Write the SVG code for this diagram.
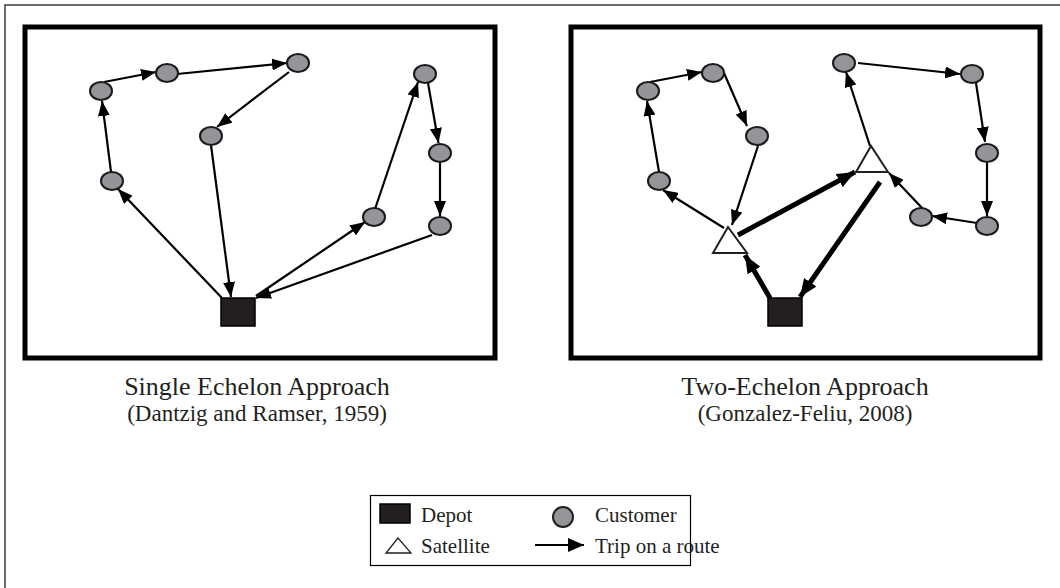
<svg xmlns="http://www.w3.org/2000/svg" width="1060" height="588" viewBox="0 0 1060 588">
<defs>
<marker id="ah" markerUnits="userSpaceOnUse" markerWidth="15" markerHeight="12" refX="15" refY="6" orient="auto"><path d="M0,0 L15,6 L0,12 z" fill="#000"/></marker>
<marker id="ahb" markerUnits="userSpaceOnUse" markerWidth="18" markerHeight="15" refX="18" refY="7.5" orient="auto"><path d="M0,0 L18,7.5 L0,15 z" fill="#000"/></marker>
<style>
.frame{fill:none;stroke:#000;stroke-width:5}
.cust{fill:#939598;stroke:#1a1a1a;stroke-width:2}
.depot{fill:#231f20;stroke:#000;stroke-width:1.5}
.sat{fill:#fff;stroke:#231f20;stroke-width:2}
.e{stroke:#000;stroke-width:2.2;fill:none;marker-end:url(#ah)}
.t{stroke:#000;stroke-width:5;fill:none;marker-end:url(#ahb)}
.cap{font-family:"Liberation Serif","Times New Roman",serif;font-size:26px;fill:#231f20;text-anchor:middle}
.cap2{font-family:"Liberation Serif","Times New Roman",serif;font-size:23px;fill:#231f20;text-anchor:middle}
.lg{font-family:"Liberation Serif","Times New Roman",serif;font-size:21px;fill:#231f20}
</style>
</defs>
<rect width="1060" height="588" fill="#fff"/>
<path d="M5,588 V5 H1060" fill="none" stroke="#3a3a3a" stroke-width="1.5"/>

<g id="panel-left">
<rect class="frame" x="25" y="27" width="470" height="331"/>
</g>
<g id="panel-right">
<rect class="frame" x="571" y="27" width="469" height="331"/>
</g>

<g id="connectors">
<line class="e" x1="222" y1="298" x2="118" y2="189"/>
<line class="e" x1="111" y1="172" x2="102" y2="101"/>
<line class="e" x1="104" y1="82" x2="156" y2="72"/>
<line class="e" x1="177" y1="74" x2="287" y2="63"/>
<line class="e" x1="289" y1="72" x2="217" y2="127"/>
<line class="e" x1="211" y1="145" x2="231" y2="297"/>
<line class="e" x1="256" y1="296" x2="365" y2="222"/>
<line class="e" x1="375" y1="209" x2="418" y2="82"/>
<line class="e" x1="428" y1="83" x2="438.5" y2="143"/>
<line class="e" x1="440" y1="163" x2="440" y2="216"/>
<line class="e" x1="432" y1="235" x2="256" y2="298"/>

<line class="e" x1="724" y1="228" x2="663" y2="190"/>
<line class="e" x1="659" y1="172" x2="647" y2="101"/>
<line class="e" x1="650" y1="82" x2="702" y2="72"/>
<line class="e" x1="724" y1="73" x2="747" y2="126"/>
<line class="e" x1="758" y1="146" x2="732" y2="225"/>
<line class="t" x1="738" y1="235" x2="855" y2="172"/>
<line class="t" x1="880" y1="182" x2="800" y2="297"/>
<line class="t" x1="770" y1="298" x2="745" y2="255"/>
<line class="e" x1="870" y1="146" x2="846" y2="72"/>
<line class="e" x1="858" y1="63" x2="960" y2="74"/>
<line class="e" x1="976" y1="83" x2="985" y2="142"/>
<line class="e" x1="987" y1="163" x2="987" y2="216"/>
<line class="e" x1="977" y1="223" x2="932" y2="216"/>
<line class="e" x1="923" y1="209" x2="889" y2="173"/>
</g>

<g id="left-nodes">
<g id="L-depot"><rect class="depot" x="221" y="298" width="34" height="28"/></g>
<g id="L-c1"><ellipse class="cust" cx="101" cy="91" rx="11" ry="9"/></g>
<g id="L-c2"><ellipse class="cust" cx="167" cy="73" rx="11" ry="9"/></g>
<g id="L-c3"><ellipse class="cust" cx="211" cy="136" rx="11" ry="9"/></g>
<g id="L-c4"><ellipse class="cust" cx="112" cy="181" rx="11" ry="9"/></g>
<g id="L-c5"><ellipse class="cust" cx="298" cy="63" rx="11" ry="9"/></g>
<g id="L-c6"><ellipse class="cust" cx="425" cy="74" rx="11" ry="9"/></g>
<g id="L-c7"><ellipse class="cust" cx="440" cy="153" rx="11" ry="9"/></g>
<g id="L-c8"><ellipse class="cust" cx="374" cy="217" rx="11" ry="9"/></g>
<g id="L-c9"><ellipse class="cust" cx="440" cy="226" rx="11" ry="9"/></g>
</g>

<g id="right-nodes">
<g id="R-depot"><rect class="depot" x="768" y="298" width="34" height="28"/></g>
<g id="R-sat1"><polygon class="sat" points="728,227 713,253 747,253"/></g>
<g id="R-sat2"><polygon class="sat" points="871,146 856,172 888,172"/></g>
<g id="R-c1"><ellipse class="cust" cx="648" cy="91" rx="11" ry="9"/></g>
<g id="R-c2"><ellipse class="cust" cx="713" cy="73" rx="11" ry="9"/></g>
<g id="R-c3"><ellipse class="cust" cx="757" cy="136" rx="11" ry="9"/></g>
<g id="R-c4"><ellipse class="cust" cx="659" cy="181" rx="11" ry="9"/></g>
<g id="R-c5"><ellipse class="cust" cx="844" cy="63" rx="11" ry="9"/></g>
<g id="R-c6"><ellipse class="cust" cx="972" cy="74" rx="11" ry="9"/></g>
<g id="R-c7"><ellipse class="cust" cx="987" cy="153" rx="11" ry="9"/></g>
<g id="R-c8"><ellipse class="cust" cx="921" cy="217" rx="11" ry="9"/></g>
<g id="R-c9"><ellipse class="cust" cx="987" cy="226" rx="11" ry="9"/></g>
</g>

<g id="captions">
<text class="cap" x="257" y="395">Single Echelon Approach</text>
<text class="cap2" x="257" y="421">(Dantzig and Ramser, 1959)</text>
<text class="cap" x="805" y="395">Two-Echelon Approach</text>
<text class="cap2" x="805" y="421">(Gonzalez-Feliu, 2008)</text>
</g>

<g id="legend">
<rect x="370.5" y="495.5" width="320" height="70" fill="none" stroke="#000" stroke-width="1.2"/>
<rect class="depot" x="380" y="504" width="30" height="19" stroke-width="1"/>
<text class="lg" x="421" y="522">Depot</text>
<polygon points="398,538 386,553 411,553" fill="#fff" stroke="#231f20" stroke-width="1.3"/>
<text class="lg" x="421" y="553">Satellite</text>
<circle cx="563" cy="517" r="10" fill="#939598" stroke="#231f20" stroke-width="2"/>
<text class="lg" x="595" y="522">Customer</text>
<line x1="535" y1="545" x2="584" y2="545" stroke="#000" stroke-width="2"/>
<path d="M568,538 L584,545 L568,552 z" fill="#000"/>
<text class="lg" x="595" y="553">Trip on a route</text>
</g>
</svg>
